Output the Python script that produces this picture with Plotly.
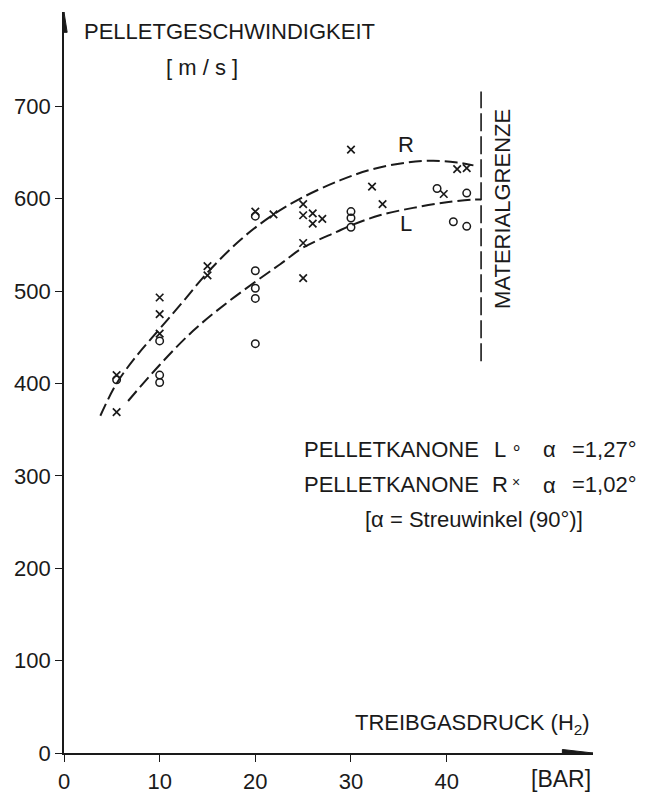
import plotly.graph_objects as go

# ---------------- data ----------------
L_bar = [5.5, 10, 10, 10, 20, 20, 20, 20, 20, 30, 30, 30, 39.0, 40.7, 42.1, 42.1]
L_v = [404, 446, 409, 401, 581, 522, 503, 492, 443, 586, 579, 569, 611, 575, 606, 570]

R_bar = [5.5, 5.5, 10, 10, 10, 15, 15, 20, 21.9, 25, 25, 25, 25, 26, 26, 27, 30,
         32.2, 33.3, 39.7, 41.1, 42.1]
R_v = [409, 369, 493, 475, 454, 527, 517, 586, 583, 594, 582, 552, 514, 584, 573,
       578, 653, 613, 594, 605, 632, 633]

R_fit_bar = [3.8, 5.5, 7.6, 10, 12.4, 15, 18.4, 21.5, 24.7, 28.9, 32.3, 35.8, 38.6, 41.1, 42.8]
R_fit_v = [365, 400, 430, 459, 488, 520, 555, 580, 600, 620, 632, 639, 641, 639, 636]

L_fit_bar = [6.7, 10, 13.5, 17, 20, 22.6, 25, 28.5, 30, 33, 36.5, 40, 42.8, 43.6]
L_fit_v = [381, 420, 457, 487, 510, 529, 547, 564, 571, 582, 590, 596, 599, 599]

limit_bar = [43.6, 43.6]
limit_v = [424, 716]

x_ticks = [0, 10, 20, 30, 40]
y_ticks = [0, 100, 200, 300, 400, 500, 600, 700]

X_MAX = 55.3
Y_MAX = 802

FONT = "Liberation Sans, Arial, sans-serif"
INK = "#1a1a1a"

fig = go.Figure()

fig.add_trace(go.Scatter(x=R_fit_bar, y=R_fit_v, mode="lines", line_shape="spline",
                         line=dict(color=INK, width=2, dash="13px,5px"),
                         hoverinfo="skip", showlegend=False))
fig.add_trace(go.Scatter(x=L_fit_bar, y=L_fit_v, mode="lines", line_shape="spline",
                         line=dict(color=INK, width=2, dash="13px,5px"),
                         hoverinfo="skip", showlegend=False))
fig.add_trace(go.Scatter(x=limit_bar, y=limit_v, mode="lines",
                         line=dict(color=INK, width=1.6, dash="18px,5px"),
                         hoverinfo="skip", showlegend=False))

fig.add_trace(go.Scatter(x=L_bar, y=L_v, mode="markers", showlegend=False,
                         marker=dict(symbol="circle-open", size=7.5,
                                     line=dict(color=INK, width=1.5), color=INK)))
fig.add_trace(go.Scatter(x=R_bar, y=R_v, mode="markers", showlegend=False,
                         marker=dict(symbol="x-thin-open", size=7.5,
                                     line=dict(color=INK, width=1.7), color=INK)))

fig.update_layout(
    width=646, height=806,
    margin=dict(l=64, r=53, t=12, b=40, pad=0),
    paper_bgcolor="white", plot_bgcolor="white",
    font=dict(family=FONT, color=INK, size=22),
    showlegend=False,
)
fig.update_xaxes(range=[0, X_MAX], showgrid=False, zeroline=False,
                 showline=True, linecolor=INK, linewidth=1.6,
                 ticks="outside", ticklen=7, tickwidth=1.4, tickcolor=INK,
                 ticklabelstandoff=1,
                 tickvals=x_ticks, ticktext=[str(v) for v in x_ticks],
                 tickfont=dict(size=22, family=FONT, color=INK))
fig.update_yaxes(range=[0, Y_MAX], showgrid=False, zeroline=False,
                 showline=True, linecolor=INK, linewidth=1.6,
                 ticks="outside", ticklen=7, tickwidth=1.4, tickcolor=INK,
                 tickvals=y_ticks, ticktext=[str(v) for v in y_ticks],
                 tickfont=dict(size=22, family=FONT, color=INK))

# arrowheads on axes
fig.add_shape(type="path", xref="x", yref="y",
              path=f"M 0 {Y_MAX} L -0.33 {Y_MAX-22} L 0.33 {Y_MAX-22} Z",
              fillcolor=INK, line=dict(color=INK, width=1))
fig.add_shape(type="path", xref="x", yref="y",
              path=f"M {X_MAX} 0 L {X_MAX-3.2} -3.8 L {X_MAX-3.2} 3.8 Z",
              fillcolor=INK, line=dict(color=INK, width=1))

def ann(text, x, y, size=22, xanchor="center", yanchor="middle", angle=0, ref="data"):
    r = ("x", "y") if ref == "data" else ("paper", "paper")
    fig.add_annotation(text=text, x=x, y=y, xref=r[0], yref=r[1], showarrow=False,
                       xanchor=xanchor, yanchor=yanchor, textangle=angle,
                       font=dict(size=size, family=FONT, color=INK))

ann("PELLETGESCHWINDIGKEIT", 1.9, 781, xanchor="left")
ann("[ m / s ]", 14.4, 742)
ann("TREIBGASDRUCK (H<sub>2</sub>)", 55.2, 31, xanchor="right")
ann("[BAR]", 1.0, -0.035, size=23, xanchor="right", ref="paper")
ann("R", 35.7, 659)
ann("L", 35.7, 573)
ann("MATERIALGRENZE", 45.9, 589, angle=-90)

ann("PELLETKANONE", 24.9, 329, xanchor="left")
ann("L", 45.6, 329)
ann("∘", 47.3, 331, size=18)
ann("α", 49.9, 328, xanchor="left")
ann("=1,27°", 52.9, 329, xanchor="left")
ann("PELLETKANONE", 24.9, 291, xanchor="left")
ann("R", 45.6, 291)
ann("×", 47.2, 293, size=14)
ann("α", 49.9, 290, xanchor="left")
ann("=1,02°", 52.9, 291, xanchor="left")
ann("[α = Streuwinkel (90°)]", 42.9, 253)

fig.write_html("out.html")
